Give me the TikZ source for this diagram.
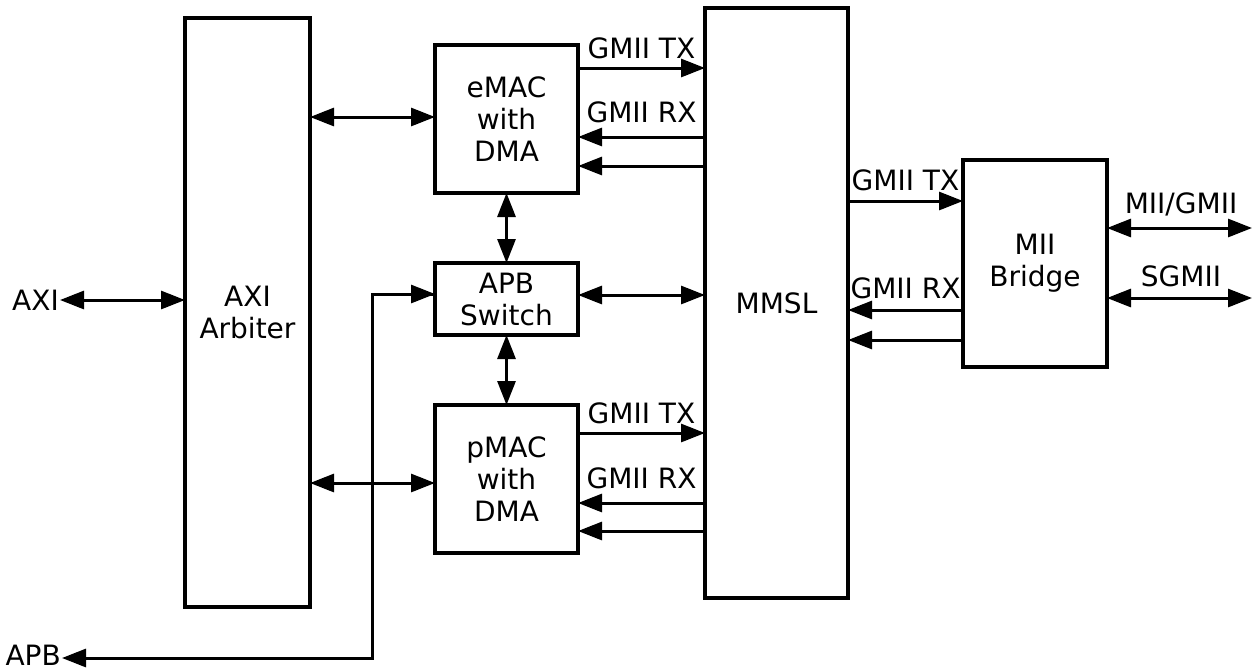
\documentclass[tikz,border=0pt]{standalone}
\usepackage{fontspec}
\setmainfont{DejaVu Sans}
\usetikzlibrary{arrows.meta}
\begin{document}
\begin{tikzpicture}[x=1pt,y=-1pt,
  every node/.style={font=\fontsize{28}{32}\selectfont},
  blk/.style={draw,line width=3.3pt,align=center,inner sep=0pt,outer sep=0pt},
  lbl/.style={anchor=base,inner sep=0pt},
  conn/.style={line width=3pt,arrows={-Triangle[length=24pt,width=18pt]}},
  bconn/.style={line width=3pt,arrows={Triangle[length=24pt,width=18pt]-Triangle[length=24pt,width=18pt]}}]
\useasboundingbox (0,0) rectangle (1255,670);
% blocks
\node[blk,minimum width=125pt,minimum height=589pt] (axi) at (247.5,312.5) {AXI\\Arbiter};
\node[blk,minimum width=143pt,minimum height=148pt] (emac) at (506.5,119) {eMAC\\with\\DMA};
\node[blk,minimum width=143pt,minimum height=72pt] (apbsw) at (506.5,299) {APB\\Switch};
\node[blk,minimum width=143pt,minimum height=148pt] (pmac) at (506.5,479) {pMAC\\with\\DMA};
\node[blk,minimum width=143pt,minimum height=590pt] (mmsl) at (776.5,303) {MMSL};
\node[blk,minimum width=144pt,minimum height=207pt] (mii) at (1035,263.5) {MII\\Bridge};
% external labels
\node[anchor=east,inner sep=1pt] (axil) at (60,300) {AXI};
\node[anchor=east,inner sep=1pt] (apbl) at (62,655) {APB};
\coordinate (apbc) at (372,658);
\coordinate (apbt) at (372,294);
\coordinate (miiend) at (1252,228);
\coordinate (sgend) at (1252,298);
% AXI side
\draw[bconn] (axil.east) -- (axil.east -| axi.west);
\draw[bconn] (axi.east |- 0,117) -- (emac.west |- 0,117);
\draw[bconn] (axi.east |- 0,483) -- (pmac.west |- 0,483);
% APB
\draw[conn,line join=miter] (apbt -| apbsw.west) -- (apbt) -- (apbc) -- (apbl.east |- apbc);
\draw[conn] (apbt) -- (apbt -| apbsw.west);
% vertical switch links
\draw[bconn] (emac.south) -- (apbsw.north);
\draw[bconn] (apbsw.south) -- (pmac.north);
\draw[bconn] (apbsw.east |- 0,295) -- (mmsl.west |- 0,295);
% eMAC <-> MMSL
\draw[conn] (emac.east |- 0,68) -- (mmsl.west |- 0,68);
\draw[conn] (mmsl.west |- 0,137) -- (emac.east |- 0,137);
\draw[conn] (mmsl.west |- 0,166) -- (emac.east |- 0,166);
\node[lbl] (etx) at (641.5,58) {GMII TX};
\node[lbl] (erx) at (641.5,122) {GMII RX};
% pMAC <-> MMSL
\draw[conn] (pmac.east |- 0,433) -- (mmsl.west |- 0,433);
\draw[conn] (mmsl.west |- 0,503) -- (pmac.east |- 0,503);
\draw[conn] (mmsl.west |- 0,531) -- (pmac.east |- 0,531);
\node[lbl] (ptx) at (641.5,423) {GMII TX};
\node[lbl] (prx) at (641.5,488) {GMII RX};
% MMSL <-> MII Bridge
\draw[conn] (mmsl.east |- 0,201) -- (mii.west |- 0,201);
\draw[conn] (mii.west |- 0,310) -- (mmsl.east |- 0,310);
\draw[conn] (mii.west |- 0,340) -- (mmsl.east |- 0,340);
\node[lbl] (mtx) at (905.5,190) {GMII TX};
\node[lbl] (mrx) at (905.5,298) {GMII RX};
% right side
\draw[bconn] (mii.east |- miiend) -- (miiend);
\draw[bconn] (mii.east |- sgend) -- (sgend);
\node[lbl] (miil) at (1181,213) {MII/GMII};
\node[lbl] (sgl) at (1181,286) {SGMII};
\end{tikzpicture}
\end{document}
